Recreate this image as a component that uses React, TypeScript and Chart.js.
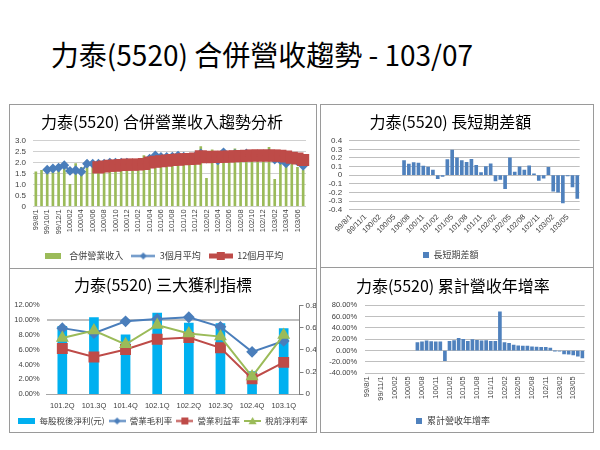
import React, { useEffect, useRef } from 'react';
import { Chart, registerables } from 'chart.js';

Chart.register(...registerables);

const CJK = '"Noto Sans CJK TC", "Noto Sans CJK SC", sans-serif';
const SANS = '"Liberation Sans", Arial, sans-serif';

const mainTitle = '力泰(5520) 合併營收趨勢 - 103/07';

const months = ['99/8/1','99/9/1','99/10/1','99/11/1','99/12/1','100/01','100/02','100/03','100/04','100/05','100/06','100/07','100/08','100/09','100/10','100/11','100/12','101/01','101/02','101/03','101/04','101/05','101/06','101/07','101/08','101/09','101/10','101/11','101/12','102/01','102/02','102/03','102/04','102/05','102/06','102/07','102/08','102/09','102/10','102/11','102/12','103/01','103/02','103/03','103/04','103/05','103/06','103/07'];

const revenue = [1.58,1.65,1.72,1.78,1.80,1.95,1.00,1.95,1.78,2.08,1.98,1.90,1.93,2.05,2.02,1.97,2.14,1.62,1.85,2.32,2.22,2.38,2.20,2.25,2.22,2.35,2.20,2.02,2.35,2.73,1.28,2.58,2.10,2.50,2.38,2.63,2.40,2.45,2.30,2.10,2.35,2.70,1.23,2.12,1.92,2.15,1.78,1.66];
const avg3 = [null,null,1.67,1.73,1.77,1.88,1.62,1.65,1.58,1.95,1.95,1.95,1.95,2.0,2.0,1.99,2.0,1.96,1.87,1.92,2.18,2.33,2.26,2.26,2.27,2.32,2.27,2.19,2.28,2.42,2.18,2.22,2.1,2.47,2.32,2.39,2.36,2.42,2.335,2.26,2.285,2.41,2.135,2.11,1.96,2.21,2.055,1.85];
const avg12 = [null,null,null,null,null,null,null,null,null,null,null,1.78,1.82,1.855,1.86,1.885,1.905,1.90,1.91,1.935,2.0,2.04,2.06,2.09,2.12,2.135,2.155,2.16,2.18,2.29,2.25,2.27,2.26,2.27,2.28,2.29,2.30,2.31,2.32,2.32,2.32,2.32,2.32,2.31,2.28,2.22,2.19,2.12];
const gapDiff = [null,null,null,null,null,null,null,null,null,null,null,0.17,0.13,0.145,0.14,0.105,0.095,0.06,-0.04,-0.015,0.18,0.29,0.2,0.17,0.15,0.185,0.115,0.03,0.1,0.133,-0.067,-0.05,-0.155,0.2,0.037,0.096,0.06,0.11,0.015,-0.06,-0.035,0.09,-0.185,-0.196,-0.32,-0.008,-0.135,-0.27];
const yoyCum = [null,null,null,null,null,null,null,null,null,null,null,14.3,15.4,17.1,16.0,15.4,15.4,-17.7,16.6,17.7,21.7,20.0,16.6,19.4,18.3,17.1,17.7,16.6,16.6,68.6,14.3,13.1,9.7,8.6,8.0,8.0,6.9,6.3,5.7,5.7,4.6,-0.5,-1.0,-5.7,-6.3,-7.4,-9.7,-13.0];

const quarters = ['101.2Q','101.3Q','101.4Q','102.1Q','102.2Q','102.3Q','102.4Q','103.1Q'];
const eps = [0.61,0.69,0.535,0.73,0.64,0.635,0.205,0.59];
const grossMargin = [8.92,8.24,9.84,10.16,10.39,9.10,5.72,7.19];
const operatingMargin = [6.18,5.03,6.04,7.41,7.64,6.27,2.10,4.30];
const pretaxMargin = [7.60,8.60,6.73,9.34,8.20,7.78,2.38,8.00];

const TICK = '#404040';

function iconCanvas(w: number, h: number, draw: (g: CanvasRenderingContext2D) => void) {
  const c = document.createElement('canvas');
  c.width = w; c.height = h;
  const g = c.getContext('2d');
  if (g) draw(g);
  return c;
}
function boxIcon(color: string, w: number, h: number) {
  return iconCanvas(w, h, (g) => { g.fillStyle = color; g.fillRect(0, 0, w, h); });
}
function lineIcon(color: string, w: number, lw: number, marker: string, ms: number) {
  const h = Math.ceil(Math.max(lw, ms)) + 2;
  return iconCanvas(w, h, (g) => {
    const cy = h / 2, cx = w / 2, r = ms / 2;
    g.strokeStyle = color; g.lineWidth = lw;
    g.beginPath(); g.moveTo(0, cy); g.lineTo(w, cy); g.stroke();
    g.fillStyle = color; g.beginPath();
    if (marker === 'diamond') { g.moveTo(cx, cy - r); g.lineTo(cx + r, cy); g.lineTo(cx, cy + r); g.lineTo(cx - r, cy); }
    else if (marker === 'square') { g.rect(cx - r, cy - r, ms, ms); }
    else { g.moveTo(cx, cy - r); g.lineTo(cx + r, cy + r * 0.8); g.lineTo(cx - r, cy + r * 0.8); }
    g.closePath(); g.fill();
  });
}
function legendLabels(icons: HTMLCanvasElement[]) {
  return (chart: any) => chart.data.datasets.map((ds: any, i: number) => ({
    text: ds.label, pointStyle: icons[i], fillStyle: 'rgba(0,0,0,0)', strokeStyle: 'rgba(0,0,0,0)',
    lineWidth: 0, hidden: false, datasetIndex: i, fontColor: TICK,
  }));
}
function titleOpt(text: string, top: number, bottom: number) {
  return { display: true, text, color: '#000', font: { size: 16, family: CJK, weight: 'normal' as const }, padding: { top, bottom } };
}

function tlConfig(): any {
  const icons = [boxIcon('#9BBB59', 16, 6), lineIcon('#4A7EBB', 24, 2, 'diamond', 7), lineIcon('#BE4B48', 24, 5, 'square', 8)];
  return {
    type: 'bar',
    data: {
      labels: months,
      datasets: [
        { type: 'bar', label: '合併營業收入', data: revenue, backgroundColor: '#9BBB59', barThickness: 2, order: 3 },
        { type: 'line', label: '3個月平均', data: avg3, borderColor: '#4A7EBB', backgroundColor: '#4A7EBB', borderWidth: 2, pointStyle: 'rectRot', pointRadius: 3.5, pointBackgroundColor: '#4A7EBB', pointBorderColor: '#4A7EBB', order: 2 },
        { type: 'line', label: '12個月平均', data: avg12, borderColor: '#BE4B48', backgroundColor: '#BE4B48', borderWidth: 5, pointStyle: 'rect', pointRadius: 5, pointBackgroundColor: '#BE4B48', pointBorderColor: '#BE4B48', order: 1 },
      ],
    },
    options: {
      responsive: false, animation: false, devicePixelRatio: 1,
      layout: { padding: { left: 0, right: 2, top: 0, bottom: 4.5 } },
      plugins: {
        title: titleOpt('力泰(5520) 合併營業收入趨勢分析', 7.4, 9.1),
        legend: { position: 'bottom', labels: { usePointStyle: true, pointStyleWidth: 24, padding: 8, font: { size: 9, family: CJK }, color: TICK, generateLabels: legendLabels(icons) } },
        tooltip: { enabled: false },
      },
      scales: {
        x: {
          grid: { display: false, drawTicks: false }, border: { display: false },
          ticks: { autoSkip: false, maxRotation: 90, minRotation: 90, padding: 3, font: { size: 7.5, family: SANS }, color: TICK, callback: (_v: any, i: number) => (i % 2 === 0 ? months[i] : null) },
          afterFit: (s: any) => { s.height = 37.2; },
        },
        y: {
          min: 0, max: 3,
          ticks: { stepSize: 0.5, autoSkip: false, font: { size: 8, family: SANS }, color: TICK, padding: 7 },
          grid: { color: '#D0D0D0', drawTicks: false }, border: { display: false },
          afterFit: (s: any) => { s.width = 23; },
        },
      },
    },
  };
}

function trConfig(): any {
  const icons = [boxIcon('#4F81BD', 6, 6)];
  return {
    type: 'bar',
    data: { labels: months, datasets: [{ label: '長短期差額', data: gapDiff, backgroundColor: '#4F81BD', barThickness: 3 }] },
    options: {
      responsive: false, animation: false, devicePixelRatio: 1,
      layout: { padding: { left: 0, right: 13.3, top: 0, bottom: 5.5 } },
      plugins: {
        title: titleOpt('力泰(5520) 長短期差額', 7.1, 9.4),
        legend: { position: 'bottom', labels: { usePointStyle: true, pointStyleWidth: 7, padding: 8, font: { size: 9, family: CJK }, color: TICK, generateLabels: legendLabels(icons) } },
        tooltip: { enabled: false },
      },
      scales: {
        x: {
          grid: { display: false, drawTicks: false }, border: { display: false },
          ticks: { autoSkip: false, maxRotation: 45, minRotation: 45, padding: 3, font: { size: 7.5, family: SANS }, color: TICK, callback: (_v: any, i: number) => (i % 3 === 0 ? months[i] : null) },
          afterFit: (s: any) => { s.height = 32.8; },
        },
        y: {
          min: -0.4, max: 0.4,
          ticks: { stepSize: 0.1, autoSkip: false, font: { size: 8, family: SANS }, color: TICK, padding: 6.5, callback: (v: any) => { const n = Math.round(Number(v) * 10) / 10; return n === 0 ? '0' : String(n); } },
          grid: { color: '#BFBFBF', drawTicks: false }, border: { display: false },
          afterFit: (s: any) => { s.width = 27.7; },
        },
      },
    },
  };
}

function brConfig(): any {
  const icons = [boxIcon('#4F81BD', 6, 6)];
  return {
    type: 'bar',
    data: { labels: months, datasets: [{ label: '累計營收年增率', data: yoyCum, backgroundColor: '#4F81BD', barThickness: 3 }] },
    options: {
      responsive: false, animation: false, devicePixelRatio: 1,
      layout: { padding: { left: 0, right: 8.3, top: 0, bottom: 3.8 } },
      plugins: {
        title: titleOpt('力泰(5520) 累計營收年增率', 7.4, 9.7),
        legend: { position: 'bottom', labels: { usePointStyle: true, pointStyleWidth: 7, padding: 8, font: { size: 9, family: CJK }, color: TICK, generateLabels: legendLabels(icons) } },
        tooltip: { enabled: false },
      },
      scales: {
        x: {
          grid: { display: false, drawTicks: false }, border: { display: false },
          ticks: { autoSkip: false, maxRotation: 90, minRotation: 90, padding: 3, font: { size: 7.5, family: SANS }, color: TICK, callback: (_v: any, i: number) => (i % 3 === 0 ? months[i] : null) },
          afterFit: (s: any) => { s.height = 34.9; },
        },
        y: {
          min: -40, max: 80,
          ticks: { stepSize: 20, autoSkip: false, font: { size: 7.5, family: SANS }, color: TICK, padding: 7.5, callback: (v: any) => Number(v).toFixed(2) + '%' },
          grid: { color: '#BFBFBF', drawTicks: false }, border: { display: false },
          afterFit: (s: any) => { s.width = 43.7; },
        },
      },
    },
  };
}

function blConfig(): any {
  const icons = [boxIcon('#00B0F0', 17, 6), lineIcon('#4A7EBB', 17, 2, 'diamond', 7), lineIcon('#BE4B48', 17, 2, 'square', 7), lineIcon('#9BBB59', 17, 2, 'triangle', 8)];
  return {
    type: 'bar',
    data: {
      labels: quarters,
      datasets: [
        { type: 'bar', label: '每股稅後淨利(元)', data: eps, yAxisID: 'y1', backgroundColor: '#00B0F0', barThickness: 9, order: 4 },
        { type: 'line', label: '營業毛利率', data: grossMargin, yAxisID: 'y', borderColor: '#4A7EBB', borderWidth: 2, pointStyle: 'rectRot', pointRadius: 4.5, pointBackgroundColor: '#4A7EBB', pointBorderColor: '#4A7EBB', order: 3 },
        { type: 'line', label: '營業利益率', data: operatingMargin, yAxisID: 'y', borderColor: '#BE4B48', borderWidth: 2, pointStyle: 'rect', pointRadius: 6.3, pointBackgroundColor: '#BE4B48', pointBorderColor: '#BE4B48', order: 2 },
        { type: 'line', label: '稅前淨利率', data: pretaxMargin, yAxisID: 'y', borderColor: '#9BBB59', borderWidth: 2, pointStyle: 'triangle', pointRadius: 5.5, pointBackgroundColor: '#9BBB59', pointBorderColor: '#9BBB59', order: 1 },
      ],
    },
    options: {
      responsive: false, animation: false, devicePixelRatio: 1,
      layout: { padding: { left: 0, right: 0, top: 0, bottom: 3.75 } },
      plugins: {
        title: titleOpt('力泰(5520) 三大獲利指標', 6.1, 11),
        legend: { position: 'bottom', labels: { usePointStyle: true, pointStyleWidth: 17, padding: 4, font: { size: 8.5, family: CJK }, color: TICK, generateLabels: legendLabels(icons) } },
        tooltip: { enabled: false },
      },
      scales: {
        x: {
          grid: { display: false, drawTicks: false }, border: { display: true, color: '#A6A6A6' },
          ticks: { font: { size: 7.5, family: SANS }, color: TICK, padding: 7.2, maxRotation: 0 },
          afterFit: (s: any) => { s.height = 18.5; },
        },
        y: {
          position: 'left', min: 0, max: 12,
          ticks: { stepSize: 2, autoSkip: false, font: { size: 7.5, family: SANS }, color: TICK, padding: 6.8, callback: (v: any) => Number(v).toFixed(2) + '%' },
          grid: { drawTicks: false, color: (c: any) => (c.tick && c.tick.value === 10 ? '#BFBFBF' : 'rgba(0,0,0,0)'), lineWidth: (c: any) => (c.tick && c.tick.value === 10 ? 2 : 1) },
          border: { display: false },
          afterFit: (s: any) => { s.width = 36.5; },
        },
        y1: {
          position: 'right', min: 0, max: 0.8,
          ticks: { stepSize: 0.2, autoSkip: false, font: { size: 8, family: SANS }, color: TICK, padding: 2, callback: (v: any) => { const n = Math.round(Number(v) * 10) / 10; return n === 0 ? '0' : String(n); } },
          grid: { drawOnChartArea: false, drawTicks: true, tickLength: 4, color: '#808080' },
          border: { display: true, color: '#808080' },
          afterFit: (s: any) => { s.width = 16.5; },
        },
      },
    },
  };
}

function ChartCanvas(props: { left: number; top: number; width: number; height: number; make: () => any }) {
  const ref = useRef<HTMLCanvasElement>(null);
  useEffect(() => {
    if (!ref.current) return;
    const chart = new Chart(ref.current, props.make());
    return () => chart.destroy();
  }, []);
  return (
    <canvas ref={ref} width={props.width} height={props.height}
      style={{ position: 'absolute', left: props.left, top: props.top, width: props.width, height: props.height }} />
  );
}

const panelStyle = (left: number, top: number, width: number, height: number): React.CSSProperties => ({
  position: 'absolute', left, top, width, height, boxSizing: 'border-box', border: '1px solid #9A9A9A',
});

export default function App() {
  return (
    <div style={{ position: 'absolute', left: 0, top: 0, width: 600, height: 450, background: '#fff', overflow: 'hidden', fontFamily: CJK }}>
      <div style={{ position: 'absolute', left: 0, top: 40, width: 524, textAlign: 'center', fontSize: 28, lineHeight: '28px', color: '#000', whiteSpace: 'nowrap' }}>{mainTitle}</div>
      <div style={panelStyle(9, 104, 308, 165)} />
      <div style={panelStyle(9, 268, 308, 165)} />
      <div style={panelStyle(320, 104, 274, 164)} />
      <div style={panelStyle(320, 267, 274, 166)} />
      <ChartCanvas left={10} top={105} width={306} height={170} make={tlConfig} />
      <ChartCanvas left={321} top={105} width={272} height={170} make={trConfig} />
      <ChartCanvas left={10} top={269} width={306} height={170} make={blConfig} />
      <ChartCanvas left={321} top={269} width={272} height={170} make={brConfig} />
    </div>
  );
}
